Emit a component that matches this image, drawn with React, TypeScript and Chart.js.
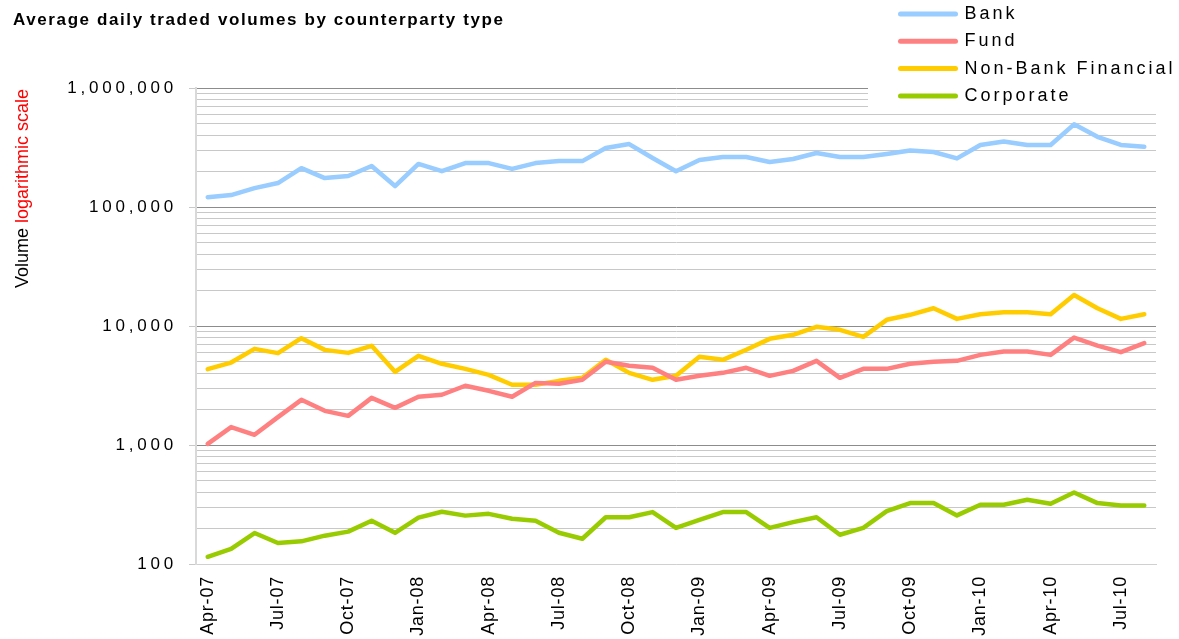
import React, { useEffect, useRef } from 'react';
import { Chart, registerables } from 'chart.js';

Chart.register(...registerables);

// ---------------- data ----------------
const MONTHS = [
  'Apr-07', 'May-07', 'Jun-07', 'Jul-07', 'Aug-07', 'Sep-07', 'Oct-07', 'Nov-07', 'Dec-07',
  'Jan-08', 'Feb-08', 'Mar-08', 'Apr-08', 'May-08', 'Jun-08', 'Jul-08', 'Aug-08', 'Sep-08', 'Oct-08', 'Nov-08', 'Dec-08',
  'Jan-09', 'Feb-09', 'Mar-09', 'Apr-09', 'May-09', 'Jun-09', 'Jul-09', 'Aug-09', 'Sep-09', 'Oct-09', 'Nov-09', 'Dec-09',
  'Jan-10', 'Feb-10', 'Mar-10', 'Apr-10', 'May-10', 'Jun-10', 'Jul-10', 'Aug-10',
];

const BANK = [
  121000, 126000, 144000, 159000, 212000, 175000, 182000, 221000, 150000,
  230000, 200000, 234000, 234000, 209000, 234000, 243000, 243000, 313000, 338000, 258000, 200000,
  248000, 263000, 263000, 239000, 253000, 284000, 263000, 263000, 279000, 298000, 290000, 256000,
  332000, 355000, 332000, 332000, 495000, 389000, 332000, 321000,
];

const FUND = [
  1023, 1413, 1219, 1715, 2397, 1937, 1758, 2490, 2052,
  2543, 2643, 3146, 2853, 2543, 3327, 3266, 3532, 5000, 4634, 4456, 3532,
  3812, 4039, 4456, 3812, 4198, 5093, 3667, 4365, 4365, 4812, 5000, 5093,
  5718, 6095, 6095, 5718, 7993, 6846, 6025, 7172,
];

const NON_BANK = [
  4339, 4929, 6425, 5913, 7900, 6300, 5943, 6814, 4119,
  5610, 4812, 4365, 3882, 3206, 3206, 3460, 3667, 5196, 4039, 3532, 3812,
  5508, 5196, 6310, 7800, 8433, 9840, 9290, 8110, 11270, 12420, 14100, 11470,
  12560, 13060, 13060, 12560, 18240, 14100, 11470, 12560,
];

const CORPORATE = [
  115, 134, 182, 150, 155, 173, 187, 231, 183,
  245, 275, 255, 264, 240, 231, 183, 163, 247, 247, 273, 201,
  235, 273, 273, 201, 225, 247, 176, 201, 278, 325, 325, 256,
  315, 315, 347, 321, 399, 325, 310, 310,
];

const SERIES_NAMES = ['Bank', 'Fund', 'Non-Bank Financial', 'Corporate'];
const SERIES_COLORS = ['#99CCFF', '#FF8080', '#FFCC00', '#99CC00'];

const Y_TICKS = [
  100, 200, 300, 400, 500, 600, 700, 800, 900,
  1000, 2000, 3000, 4000, 5000, 6000, 7000, 8000, 9000,
  10000, 20000, 30000, 40000, 50000, 60000, 70000, 80000, 90000,
  100000, 200000, 300000, 400000, 500000, 600000, 700000, 800000, 900000,
  1000000,
];
const Y_LABELED = [100, 1000, 10000, 100000, 1000000];

const TITLE = 'Average daily traded volumes by counterparty type';
const Y_TITLE_BLACK = 'Volume';
const Y_TITLE_RED = 'logarithmic scale';

// ---------------- fonts ----------------
const FAM_A = '"Liberation Sans", Arial, sans-serif';
const FAM_B = "'Liberation Sans', Arial, sans-serif";
const FAM_C = 'Arial, "Liberation Sans", sans-serif';

function spacingFor(f: string): string {
  if (typeof f !== 'string') return '0px';
  if (f.indexOf(FAM_B) >= 0) return '3px';
  if (f.indexOf(FAM_A) < 0) return '0px';
  if (/bold/.test(f)) return '1.6px';
  if (/(^|\s)17px/.test(f)) return '3.8px';
  if (/(^|\s)18px/.test(f)) return '0.8px';
  return '0px';
}

function patchCtx(ctx: any) {
  const desc = Object.getOwnPropertyDescriptor(CanvasRenderingContext2D.prototype, 'font');
  if (!desc || !desc.set || !desc.get) return;
  Object.defineProperty(ctx, 'font', {
    configurable: true,
    get() {
      return desc.get!.call(this);
    },
    set(v: string) {
      desc.set!.call(this, v);
      if ('letterSpacing' in this) (this as any).letterSpacing = spacingFor(v);
    },
  });
}

// ---------------- plugins ----------------
const legendPlacer = {
  id: 'legendPlacer',
  afterInit(chart: any) {
    const lg = chart.legend;
    if (!lg || lg.__patched) return;
    lg.__patched = true;
    const orig = lg.draw;
    lg.draw = function (...args: any[]) {
      const c = this.ctx;
      c.save();
      c.fillStyle = '#ffffff';
      c.fillRect(868, 0, 311, 110);
      c.restore();
      return orig.apply(this, args);
    };
  },
  afterLayout(chart: any) {
    const lg = chart.legend;
    if (!lg) return;
    lg.left = 891.2;
    lg.top = -4.3;
    lg.right = 1179;
    lg.bottom = 639;
    lg.width = lg.right - lg.left;
    lg.height = lg.bottom - lg.top;
  },
};

const yTitlePlugin = {
  id: 'yTitlePlugin',
  afterDraw(chart: any) {
    const c = chart.ctx;
    c.save();
    c.translate(27.5, 288);
    c.rotate(-Math.PI / 2);
    c.font = '18px ' + FAM_C;
    c.textAlign = 'left';
    c.textBaseline = 'alphabetic';
    c.fillStyle = '#000000';
    c.fillText(Y_TITLE_BLACK, 0, 0);
    const w = c.measureText(Y_TITLE_BLACK + ' ').width;
    c.fillStyle = '#FF0000';
    c.fillText(Y_TITLE_RED, w, 0);
    c.restore();
  },
};

const isLabeled = (v: number) => Y_LABELED.indexOf(Number(v)) >= 0;

export default function App() {
  const ref = useRef<HTMLCanvasElement | null>(null);

  useEffect(() => {
    const canvas = ref.current;
    if (!canvas) return;
    const ctx = canvas.getContext('2d');
    if (!ctx) return;
    patchCtx(ctx);
    Chart.defaults.font.family = FAM_C;

    const seriesData = [BANK, FUND, NON_BANK, CORPORATE];
    const datasets = seriesData.map((data, i) => ({
      label: SERIES_NAMES[i],
      data,
      borderColor: SERIES_COLORS[i],
      backgroundColor: SERIES_COLORS[i],
      borderWidth: 4.5,
      pointRadius: 0,
      pointHoverRadius: 0,
      tension: 0,
      fill: false,
      borderCapStyle: 'round',
      borderJoinStyle: 'round',
    }));

    const chart = new Chart(ctx, {
      type: 'line',
      data: { labels: MONTHS, datasets: datasets as any },
      plugins: [legendPlacer, yTitlePlugin],
      options: {
        animation: false,
        responsive: false,
        events: [],
        layout: { padding: { left: 13, right: 23, top: 0, bottom: 0 } },
        plugins: {
          title: {
            display: true,
            text: TITLE,
            align: 'start',
            color: '#000000',
            font: { family: FAM_A, size: 17, weight: 'bold' },
            padding: { top: 10, bottom: 57.6 },
          },
          legend: {
            display: true,
            position: 'chartArea' as any,
            align: 'start',
            labels: {
              usePointStyle: true,
              pointStyle: 'line',
              pointStyleWidth: 55,
              padding: 9.3,
              color: '#000000',
              font: { family: FAM_B, size: 18 },
              generateLabels: (ch: any) =>
                ch.data.datasets.map((ds: any, i: number) => ({
                  text: ds.label,
                  fillStyle: ds.borderColor,
                  strokeStyle: ds.borderColor,
                  fontColor: '#000000',
                  lineWidth: 5,
                  lineCap: 'round',
                  pointStyle: 'line',
                  hidden: false,
                  datasetIndex: i,
                })),
            },
          },
          tooltip: { enabled: false },
        },
        scales: {
          x: {
            type: 'category',
            offset: true,
            afterFit: (s: any) => {
              s.height = 75;
            },
            grid: { display: true, drawOnChartArea: false, drawTicks: false },
            border: { display: true, color: '#d0d0d0', width: 1 },
            ticks: {
              autoSkip: false,
              maxRotation: 90,
              minRotation: 90,
              padding: 12,
              color: '#000000',
              font: { family: FAM_A, size: 18 },
              callback: (_v: any, index: number) => (index % 3 === 0 ? MONTHS[index] : ''),
            },
          },
          y: {
            type: 'logarithmic',
            min: 100,
            max: 1000000,
            afterFit: (s: any) => {
              s.width = 183;
            },
            afterBuildTicks: (s: any) => {
              s.ticks = Y_TICKS.map((v) => ({ value: v }));
            },
            grid: {
              lineWidth: 1,
              drawTicks: true,
              tickLength: 7,
              color: (c: any) => {
                const v = c.tick ? c.tick.value : 0;
                if (v === 100) return '#d0d0d0';
                return isLabeled(v) ? '#8c8c8c' : '#c8c8c8';
              },
              tickColor: (c: any) => {
                const v = c.tick ? c.tick.value : 0;
                return isLabeled(v) ? '#c8c8c8' : 'rgba(0,0,0,0)';
              },
            },
            border: { display: true, color: '#d9d9d9', width: 2 },
            ticks: {
              autoSkip: false,
              padding: 12,
              color: '#000000',
              font: { family: FAM_A, size: 17 },
              callback: (v: any) => (isLabeled(Number(v)) ? Number(v).toLocaleString('en-US') : ''),
            },
          },
        },
      } as any,
    });

    return () => {
      chart.destroy();
    };
  }, []);

  return (
    <div style={{ position: 'fixed', left: 0, top: 0, width: 1179, height: 639, background: '#ffffff' }}>
      <canvas ref={ref} width={1179} height={639} style={{ display: 'block', width: 1179, height: 639 }} />
    </div>
  );
}
